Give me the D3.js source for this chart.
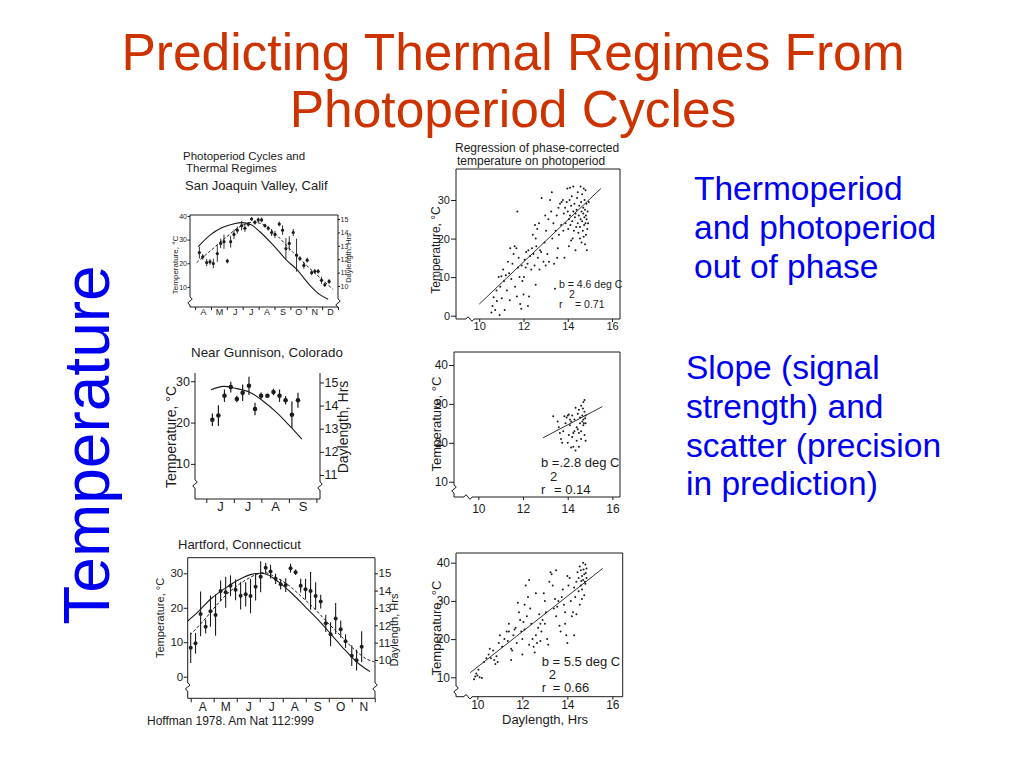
<!DOCTYPE html>
<html>
<head>
<meta charset="utf-8">
<script src="https://cdn.jsdelivr.net/npm/d3@7"></script>
<style>
  body { margin: 0; background: #fff; }
  svg { font-family: "Liberation Sans", Arial, sans-serif; }
</style>
</head>
<body>
<script>
// ---- slide text ----
var titleLines = ['Predicting Thermal Regimes From', 'Photoperiod Cycles'];
var noteA = ['Thermoperiod', 'and photoperiod', 'out of phase'];
var noteB = ['Slope (signal', 'strength) and', 'scatter (precision', 'in prediction)'];
var sideLabel = 'Temperature';
var citation = 'Hoffman 1978. Am Nat 112:999';

// ---- San Joaquin Valley (month, temp, +/-) ----
var sjMonths = ['A', 'M', 'J', 'J', 'A', 'S', 'O', 'N', 'D'];
var sjTempTicks = [10, 20, 30, 40];
var sjDayTicks = [10, 11, 12, 13, 14, 15];
var sjTemp = [
  [4.27, 24.5, 2.5], [4.48, 22.7, 1.2], [4.73, 20.3, 1.5], [4.94, 20.6, 1.2], [5.15, 19.9, 2],
  [5.40, 24.1, 3.5], [5.61, 28.4, 2], [5.82, 29.1, 3], [6.03, 20.9, 1], [6.24, 29.1, 2.5],
  [6.45, 32.2, 2], [6.66, 34.0, 1.5], [6.93, 35.9, 2], [7.14, 34.8, 1.5], [7.35, 36.5, 1],
  [7.56, 38.7, 0.8], [7.77, 37.3, 1], [7.98, 38.3, 1], [8.19, 38.3, 1], [8.40, 35.9, 0.8],
  [8.61, 34.8, 1], [8.82, 33.0, 1.5], [9.03, 32.2, 1.5], [9.30, 36.6, 1], [9.51, 34.0, 2],
  [9.72, 26.2, 4.5], [9.93, 28.4, 3], [10.18, 33.0, 1.5], [10.39, 23.4, 7], [10.60, 22.0, 1],
  [10.85, 19.1, 1.5], [11.06, 21.3, 1], [11.34, 16.0, 1], [11.54, 16.6, 1], [11.75, 16.6, 1],
  [11.96, 12.8, 1.5], [12.17, 10.9, 1], [12.44, 12.3, 1]
];
var sjDay = [
  [4.20, 12.93], [4.94, 13.8], [5.68, 14.35], [6.41, 14.63], [7.0, 14.73], [7.56, 14.55],
  [8.08, 14.05], [8.92, 13.05], [9.76, 11.93], [10.39, 11.25], [11.23, 10.05], [11.86, 9.35], [12.38, 9.0]
];
var sjFit = [
  [4.10, 20.3], [4.94, 25.1], [5.99, 31.2], [6.83, 35.5], [7.56, 37.3], [8.08, 36.9],
  [8.71, 34.5], [9.34, 30.5], [10.18, 24.5], [11.02, 19.1], [11.86, 13.9], [12.7, 8.9]
];

// ---- Gunnison ----
var gnMonths = ['J', 'J', 'A', 'S'];
var gnTempTicks = [10, 20, 30];
var gnDayTicks = [11, 12, 13, 14, 15];
var gnTemp = [
  [6.22, 20.7, 1.5], [6.44, 21.7, 2.5], [6.66, 26.5, 1.5], [6.89, 28.6, 1.3], [7.11, 25.7, 0.8],
  [7.32, 27.2, 2], [7.55, 28.9, 2.2], [7.77, 23.3, 1.5], [7.99, 26.5, 0.8], [8.22, 26.5, 0.4],
  [8.44, 27.4, 0.8], [8.66, 26.5, 1.5], [8.88, 25.4, 1], [9.11, 21.9, 3.2], [9.33, 25.4, 1.8]
];
var gnDay = [
  [6.17, 14.69], [6.62, 14.83], [7.05, 14.75], [7.59, 14.57], [8.08, 14.18],
  [8.56, 13.70], [9.05, 13.10], [9.47, 12.55]
];

// ---- Hartford ----
var hfMonths = ['A', 'M', 'J', 'J', 'A', 'S', 'O', 'N'];
var hfTempTicks = [0, 10, 20, 30];
var hfDayTicks = [10, 11, 12, 13, 14, 15];
var hfTemp = [
  [4.0, 8.4, 4.4], [4.21, 9.7, 3], [4.43, 18.2, 6.5], [4.65, 14.5, 2], [4.86, 19.0, 4.5],
  [5.08, 17.9, 6], [5.30, 24.9, 3], [5.52, 24.5, 4.5], [5.73, 26.4, 3], [5.95, 25.2, 3],
  [6.17, 23.5, 4], [6.39, 23.9, 3.5], [6.60, 23.4, 5], [6.82, 26.1, 4], [7.04, 29.0, 4.5],
  [7.26, 31.6, 1.5], [7.47, 30.5, 2], [7.69, 28.4, 1.5], [7.91, 26.8, 1.5], [8.13, 26.6, 2],
  [8.34, 31.5, 1.3], [8.56, 30.3, 0.8], [8.78, 26.4, 2], [8.99, 25.4, 3], [9.21, 24.9, 5.5],
  [9.43, 23.4, 4], [9.65, 21.8, 2], [9.87, 15.5, 2.5], [10.08, 12.3, 3.5], [10.30, 16.9, 4.5],
  [10.52, 13.8, 2.5], [10.73, 10.3, 2], [11.00, 6.1, 3], [11.21, 4.8, 3], [11.43, 8.7, 4.5]
];
var hfDay = [
  [3.87, 12.25], [4.33, 12.79], [4.91, 13.56], [5.49, 14.13], [6.07, 14.62], [6.65, 14.94],
  [7.08, 15.0], [7.37, 14.90], [7.80, 14.52], [8.39, 13.85], [8.97, 13.08], [9.54, 12.31],
  [10.13, 11.44], [10.70, 10.58], [11.28, 9.81], [11.79, 9.33]
];
var hfFit = [
  [3.97, 12.1], [4.54, 16.1], [5.13, 20.8], [5.70, 24.7], [6.28, 27.6], [6.87, 29.7],
  [7.23, 30.2], [7.66, 29.0], [8.24, 26.6], [8.82, 23.2], [9.40, 19.6], [9.98, 15.5],
  [10.56, 11.6], [11.14, 7.7], [11.65, 5.1], [11.98, 4.3]
];

// ---- regressions (daylength, temp) ----
var xTicks = [10, 12, 14, 16];
var rg1Ticks = [0, 10, 20, 30];
var rg2Ticks = [10, 20, 30, 40];
var rg1Pts = [
  [10.55, 0.8], [10.6, 2.5], [10.65, 4.8], [10.72, 1.5], [10.78, 6.5], [10.8, 3.8], [10.88, 10],
  [10.95, 7.5], [11.0, 10.2], [11.02, 4.5], [11.08, 12], [11.12, 9], [11.2, 10.5], [11.25, 6.5],
  [11.3, 14], [11.35, 11], [11.4, 17.5], [11.45, 9.5], [11.5, 13.5], [11.55, 16], [11.6, 18],
  [11.62, 7.5], [11.68, 17.5], [11.72, 27], [11.75, 12.5], [11.78, 15], [11.82, 10], [11.85, 3],
  [11.9, 1.8], [11.92, 13], [11.95, 9], [12.0, 5.5], [12.02, 10], [12.05, 14.5], [12.1, 12.5],
  [12.12, 16.5], [12.18, 13.5], [12.22, 17], [12.25, 5], [12.3, 15.5], [12.35, 12], [12.38, 17.5],
  [12.42, 21], [12.45, 16], [12.5, 13], [12.52, 23.5], [12.55, 20], [12.58, 18], [12.62, 22.5],
  [12.65, 15], [12.7, 24], [12.72, 12], [12.75, 17], [12.8, 16.5], [12.82, 30.5], [12.9, 14],
  [12.95, 19], [13.0, 13], [13.02, 22], [13.08, 16], [13.12, 25], [13.15, 14], [13.2, 30],
  [13.25, 27], [13.28, 32], [13.3, 20], [13.35, 24], [13.38, 13.5], [13.42, 7], [13.45, 22],
  [13.5, 26], [13.52, 15], [13.58, 28], [13.6, 21], [13.65, 29], [13.7, 23.5], [13.72, 29.5],
  [13.78, 30], [13.8, 22], [13.82, 26.5], [13.88, 28], [13.9, 24], [13.95, 29.5], [13.98, 33],
  [14.0, 27], [14.02, 22.5], [14.05, 25], [14.08, 30], [14.1, 26], [14.12, 23.5], [14.15, 28.5],
  [14.18, 31], [14.2, 24.5], [14.22, 20], [14.25, 27], [14.28, 22], [14.3, 29], [14.32, 25.5],
  [14.35, 17], [14.38, 23], [14.4, 27.5], [14.42, 30.5], [14.45, 24], [14.48, 21.5], [14.5, 26],
  [14.52, 28.5], [14.55, 23], [14.58, 25], [14.6, 29.5], [14.62, 19], [14.62, 27], [14.65, 24.5],
  [14.65, 31.5], [14.68, 22], [14.7, 26.5], [14.7, 28], [14.72, 33], [14.74, 23.5], [14.75, 25.5],
  [14.76, 30], [14.78, 18.5], [14.78, 27.5], [14.8, 24], [14.8, 32.5], [14.82, 26], [14.82, 21],
  [14.84, 29], [14.85, 25], [14.86, 17], [14.9, 27], [14.88, 22.5], [14.58, 33.5], [14.45, 32],
  [14.25, 33.5], [14.15, 19.5], [14.05, 18], [13.85, 15], [13.55, 17.5], [12.98, 26], [12.55, 8],
  [12.2, 2.5], [11.7, 5], [11.38, 4], [11.15, 1.5], [10.92, 0.2], [14.95, 29.5], [14.92, 24],
  [14.72, 20.5], [14.55, 20], [14.35, 26.5], [14.1, 33.2]
];
var rg1Line = [[10, 3], [15.5, 33]];

var rg2Pts = [
  [13.35, 26.8], [13.6, 24], [13.7, 21], [13.75, 20], [13.8, 23], [13.9, 25], [13.95, 26.5],
  [14.0, 27], [14.05, 22], [14.1, 24.5], [14.15, 25.5], [14.2, 21.5], [14.2, 27], [14.25, 19],
  [14.3, 23], [14.3, 26], [14.35, 18], [14.4, 20.5], [14.4, 24], [14.45, 27.5], [14.5, 28.5],
  [14.5, 22.5], [14.55, 25], [14.55, 26.5], [14.6, 29.5], [14.6, 23], [14.65, 27], [14.65, 25.5],
  [14.7, 30.5], [14.7, 26], [14.7, 24.5], [14.75, 28], [14.75, 22], [14.75, 31], [14.8, 27],
  [14.8, 25], [14.8, 20.5], [14.6, 21], [14.5, 19], [14.1, 26], [13.55, 25.5], [13.65, 22.5],
  [14.0, 20], [14.35, 29], [14.45, 23.5], [14.25, 22.5], [14.15, 18.8], [13.85, 26.8],
  [14.05, 27.3], [14.68, 28.8], [14.72, 25], [14.78, 26.3]
];
var rg2Line = [[12.9, 21.3], [15.55, 29.3]];

var rg3Pts = [
  [9.85, 9.5], [9.95, 11], [10.0, 10.5], [10.05, 12], [10.1, 10], [10.2, 9.8], [9.9, 10.2],
  [10.3, 14], [10.4, 15], [10.5, 16], [10.55, 17.5], [10.6, 15], [10.7, 17], [10.75, 14.5],
  [10.8, 13.5], [10.85, 15.5], [10.9, 14], [10.95, 19], [11.0, 21], [11.1, 18], [11.2, 20],
  [11.3, 22], [11.35, 19.5], [11.4, 22], [11.5, 17.5], [11.55, 17], [11.5, 14.5], [11.6, 21],
  [11.65, 22.5], [11.7, 23], [11.75, 19], [11.8, 29.5], [11.85, 27], [11.9, 25], [11.95, 22],
  [12.0, 20], [12.0, 16], [12.05, 24.5], [12.1, 22.5], [12.15, 34], [12.2, 26], [12.25, 31],
  [12.3, 35.5], [12.35, 28], [12.4, 24], [12.45, 20], [12.5, 18], [12.55, 16.5], [12.6, 21],
  [12.65, 19], [12.7, 23], [12.75, 26.5], [12.8, 24], [12.85, 22], [12.9, 25], [12.95, 32],
  [13.0, 30], [13.05, 27], [13.1, 20], [13.15, 18.5], [13.2, 35], [13.25, 37.5], [13.3, 37],
  [13.35, 34], [13.4, 28], [13.45, 30.5], [13.5, 26], [13.55, 28.5], [13.6, 30], [13.65, 23.5],
  [13.7, 22], [13.75, 31], [13.8, 33], [13.85, 29], [13.9, 27], [13.95, 21], [14.0, 19],
  [14.05, 34], [14.1, 36], [14.15, 30], [14.2, 26], [14.25, 27], [14.3, 33.5], [14.35, 31],
  [14.4, 35], [14.45, 37.5], [14.5, 36], [14.5, 32.5], [14.55, 39], [14.6, 34], [14.6, 38],
  [14.65, 36.5], [14.65, 33], [14.7, 40], [14.7, 35.5], [14.75, 37], [14.75, 31.5], [14.8, 39.5],
  [14.8, 34.5], [14.85, 36], [14.85, 38.5], [14.55, 29], [14.4, 26.5], [14.3, 21], [13.9, 24],
  [12.1, 29], [12.6, 32], [11.4, 24], [12.3, 18.5], [13.0, 24], [12.8, 19.5], [13.5, 38],
  [14.0, 36.5], [14.65, 30.5], [14.72, 38.2], [14.78, 35], [14.62, 35.2], [14.82, 37.3]
];
var rg3Line = [[9.68, 11.2], [15.57, 38.5]];

var ink = '#1c1c1c';

var svg = d3.select('body').append('svg')
  .attr('width', 1024)
  .attr('height', 768);

// ---- slide text ----
svg.selectAll('text.title')
  .data(titleLines)
  .enter()
  .append('text')
  .attr('class', 'title')
  .attr('x', 513)
  .attr('y', function (d, i) { return 70 + i * 57; })
  .attr('text-anchor', 'middle')
  .attr('font-size', 51.5)
  .attr('fill', '#cc3300')
  .text(function (d) { return d; });

function noteBlock(lines, x, y0) {
  svg.append('g').selectAll('text')
    .data(lines)
    .enter()
    .append('text')
    .attr('x', x)
    .attr('y', function (d, i) { return y0 + i * 38.8; })
    .attr('font-size', 33.5)
    .attr('fill', '#0000f0')
    .text(function (d) { return d; });
}
noteBlock(noteA, 694, 200);
noteBlock(noteB, 686, 379);

svg.append('text')
  .attr('transform', 'translate(109,445) rotate(-90)')
  .attr('text-anchor', 'middle')
  .attr('font-size', 64)
  .attr('fill', '#0000f0')
  .text(sideLabel);

// ---- helpers ----
function vLine(x, y0, y1, b) {
  if (b == null) { return 'M' + x + ',' + y0 + 'V' + y1; }
  return 'M' + x + ',' + y0 + 'V' + (b - 4) +
    'Q' + (x + 4) + ',' + (b - 2) + ' ' + x + ',' + b +
    'Q' + (x - 4) + ',' + (b + 2) + ' ' + x + ',' + (b + 4) + 'V' + y1;
}
function hLine(y, x0, x1, b) {
  if (b == null) { return 'M' + x0 + ',' + y + 'H' + x1; }
  return 'M' + x0 + ',' + y + 'H' + (b - 4) +
    'Q' + (b - 2) + ',' + (y - 4) + ' ' + b + ',' + y +
    'Q' + (b + 2) + ',' + (y + 4) + ' ' + (b + 4) + ',' + y + 'H' + x1;
}
function styleAxis(a, fs) {
  a.attr('font-family', '"Liberation Sans", Arial, sans-serif').attr('font-size', fs);
  a.selectAll('line').attr('stroke', ink);
  a.selectAll('text').attr('fill', ink);
  a.select('.domain').remove();
}
function stroke(sel, w) {
  return sel.attr('fill', 'none').attr('stroke', ink).attr('stroke-width', w || 1);
}
function vLabel(g, txt, x, y, fs) {
  g.append('text')
    .attr('transform', 'translate(' + x + ',' + y + ') rotate(-90)')
    .attr('text-anchor', 'middle')
    .attr('font-size', fs)
    .attr('fill', ink)
    .text(txt);
}
var fmt = d3.format('d');

// month chart: temperature points with bars, daylength curve, optional fitted curve
function monthChart(c) {
  var g = svg.append('g');
  var x = d3.scaleLinear().domain(c.mDomain).range([c.left, c.right]);
  var yT = d3.scaleLinear().domain(c.tDomain).range([c.bottom, c.top]);
  var yD = d3.scaleLinear().domain(c.dDomain).range([c.bottom, c.top]);

  if (c.frameTop) { stroke(g.append('path').attr('d', hLine(c.top, c.left, c.right)), 1); }
  stroke(g.append('path').attr('d', vLine(c.left, c.axisTop, c.bottom, c.breakL)), 1);
  stroke(g.append('path').attr('d', vLine(c.right, c.axisTop, c.bottom, c.breakR)), 1);
  stroke(g.append('path').attr('d', hLine(c.bottom, c.left, c.right)), 1);

  var aL = g.append('g').attr('transform', 'translate(' + c.left + ',0)')
    .call(d3.axisLeft(yT).tickValues(c.tTicks).tickFormat(fmt)
      .tickSizeInner(c.tickL).tickSizeOuter(0).tickPadding(c.padL));
  styleAxis(aL, c.fsTick);
  var aR = g.append('g').attr('transform', 'translate(' + c.right + ',0)')
    .call(d3.axisRight(yD).tickValues(c.dTicks).tickFormat(fmt)
      .tickSizeInner(c.tickR).tickSizeOuter(0).tickPadding(c.padR));
  styleAxis(aR, c.fsTick);

  var bounds = d3.range(Math.ceil(c.mDomain[0]), Math.floor(c.mDomain[1]) + 1);
  var aB = g.append('g').attr('transform', 'translate(0,' + c.bottom + ')')
    .call(d3.axisBottom(x).tickValues(bounds).tickSize(c.tickB).tickFormat(''));
  styleAxis(aB, c.fsMonth);
  var mids = c.months.map(function (m, i) { return c.firstMonth + 0.5 + i; });
  var aM = g.append('g').attr('transform', 'translate(0,' + c.bottom + ')')
    .call(d3.axisBottom(x).tickValues(mids).tickSize(0).tickPadding(c.padM)
      .tickFormat(function (d, i) { return c.months[i]; }));
  styleAxis(aM, c.fsMonth);

  var line = d3.line().curve(d3.curveCatmullRom);
  stroke(g.append('path').datum(c.day)
    .attr('d', line.x(function (d) { return x(d[0]); }).y(function (d) { return yD(d[1]); })), 1.1);
  if (c.fit) {
    stroke(g.append('path').datum(c.fit)
      .attr('d', line.x(function (d) { return x(d[0]); }).y(function (d) { return yT(d[1]); })), 1)
      .attr('stroke-dasharray', '3,2');
  }

  g.selectAll('line.bar')
    .data(c.temp)
    .enter()
    .append('line')
    .attr('class', 'bar')
    .attr('x1', function (d) { return x(d[0]); })
    .attr('x2', function (d) { return x(d[0]); })
    .attr('y1', function (d) { return yT(d[1] - d[2]); })
    .attr('y2', function (d) { return yT(d[1] + d[2]); })
    .attr('stroke', ink)
    .attr('stroke-width', c.bar);
  g.selectAll('circle')
    .data(c.temp)
    .enter()
    .append('circle')
    .attr('cx', function (d) { return x(d[0]); })
    .attr('cy', function (d) { return yT(d[1]); })
    .attr('r', c.dot)
    .attr('fill', ink);

  vLabel(g, 'Temperature, °C', c.yLab[0], c.yLab[1], c.yLab[2]);
  vLabel(g, 'Daylength, Hrs', c.dLab[0], c.dLab[1], c.dLab[2]);
  return g;
}

// regression scatter
function scatterChart(c) {
  var g = svg.append('g');
  var x = d3.scaleLinear().domain(c.xDomain).range([c.left, c.right]);
  var y = d3.scaleLinear().domain(c.yDomain).range([c.bottom, c.top]);

  stroke(g.append('path').attr('d', hLine(c.top, c.left, c.right)), 1);
  stroke(g.append('path').attr('d', vLine(c.right, c.top, c.bottom)), 1);
  stroke(g.append('path').attr('d', vLine(c.left, c.top, c.bottom, c.breakL)), 1);
  stroke(g.append('path').attr('d', hLine(c.bottom, c.left, c.right, c.breakB)), 1);

  var aL = g.append('g').attr('transform', 'translate(' + c.left + ',0)')
    .call(d3.axisLeft(y).tickValues(c.yTicks).tickFormat(fmt)
      .tickSizeInner(5).tickSizeOuter(0).tickPadding(1));
  styleAxis(aL, c.fs);
  var aB = g.append('g').attr('transform', 'translate(0,' + c.bottom + ')')
    .call(d3.axisBottom(x).tickValues(xTicks).tickFormat(fmt)
      .tickSizeInner(3).tickSizeOuter(0).tickPadding(c.padB));
  styleAxis(aB, c.fs);

  g.selectAll('circle')
    .data(c.pts)
    .enter()
    .append('circle')
    .attr('cx', function (d) { return x(d[0]); })
    .attr('cy', function (d) { return y(d[1]); })
    .attr('r', 1)
    .attr('fill', ink);

  stroke(g.append('path').datum(c.fit)
    .attr('d', d3.line().x(function (d) { return x(d[0]); }).y(function (d) { return y(d[1]); })), 0.9);

  var s = c.stats;
  g.selectAll('text.stat')
    .data([[s.b, s.x, s.y], ['2', s.x + s.sup, s.y + s.gap], ['r', s.x, s.y + 2 * s.gap],
      ['= ' + s.r, s.x + s.req, s.y + 2 * s.gap]])
    .enter()
    .append('text')
    .attr('class', 'stat')
    .attr('x', function (d) { return d[1]; })
    .attr('y', function (d) { return d[2]; })
    .attr('font-size', s.fs)
    .attr('fill', ink)
    .text(function (d) { return d[0]; });

  vLabel(g, 'Temperature, °C', c.yLab[0], c.yLab[1], c.yLab[2]);
  if (c.xLab) {
    g.append('text').attr('x', c.xLab[0]).attr('y', c.xLab[1]).attr('text-anchor', 'middle')
      .attr('font-size', c.xLab[2]).attr('fill', ink).text('Daylength, Hrs');
  }
  return g;
}

function caption(lines) {
  svg.append('g').selectAll('text')
    .data(lines)
    .enter()
    .append('text')
    .attr('x', function (d) { return d[1]; })
    .attr('y', function (d) { return d[2]; })
    .attr('font-size', function (d) { return d[3]; })
    .attr('fill', ink)
    .text(function (d) { return d[0]; });
}

// ---- figure captions ----
caption([
  ['Photoperiod Cycles and', 183, 160, 11.5],
  ['Thermal Regimes', 186, 172, 11.5],
  ['San Joaquin Valley, Calif', 185, 190, 13],
  ['Regression of phase-corrected', 455, 152, 12],
  ['temperature on photoperiod', 457, 165, 12],
  ['Near Gunnison, Colorado', 191, 357, 13.4],
  ['Hartford, Connecticut', 178, 549, 13],
  [citation, 147, 725, 12]
]);

// ---- month charts ----
monthChart({
  left: 190, right: 338, top: 215, bottom: 307, axisTop: 215, frameTop: true,
  mDomain: [3.68, 13.0], tDomain: [1.5, 40.4], dDomain: [8.43, 15.3],
  breakL: 301, breakR: 303, tickL: 2.5, padL: 0.5, tickR: 2, padR: 0.5, tickB: 3, padM: 2,
  fsTick: 7, fsMonth: 9, dot: 1.6, bar: 0.9,
  months: sjMonths, firstMonth: 4, tTicks: sjTempTicks, dTicks: sjDayTicks,
  temp: sjTemp, day: sjDay, fit: sjFit,
  yLab: [178, 265, 8], dLab: [351, 258, 7.5]
});
monthChart({
  left: 195, right: 320, top: 373, bottom: 499, axisTop: 373, frameTop: false,
  mDomain: [5.59, 10.13], tDomain: [1.5, 32], dDomain: [9.96, 15.41],
  breakL: 484, breakR: 486, tickL: 4, padL: 1, tickR: 4, padR: 0.5, tickB: 4, padM: 3,
  fsTick: 12.5, fsMonth: 13, dot: 2.3, bar: 1.2,
  months: gnMonths, firstMonth: 6, tTicks: gnTempTicks, dTicks: gnDayTicks,
  temp: gnTemp, day: gnDay, fit: null,
  yLab: [176, 437, 14], dLab: [348, 427, 14]
});
monthChart({
  left: 187.7, right: 375, top: 557.7, bottom: 698.3, axisTop: 557.7, frameTop: true,
  mDomain: [3.87, 12.01], tDomain: [-6.27, 34.53], dDomain: [7.79, 15.9],
  breakL: 687, breakR: 687, tickL: 4, padL: 0.5, tickR: 3, padR: 0.5, tickB: 4, padM: 4,
  fsTick: 11.5, fsMonth: 12, dot: 2, bar: 1.1,
  months: hfMonths, firstMonth: 4, tTicks: hfTempTicks, dTicks: hfDayTicks,
  temp: hfTemp, day: hfDay, fit: hfFit,
  yLab: [164, 618, 11], dLab: [398, 630, 11]
});

// ---- regression charts ----
scatterChart({
  left: 456, right: 620, top: 169, bottom: 319,
  xDomain: [8.95, 16.36], yDomain: [-0.86, 38.04], yTicks: rg1Ticks,
  breakL: null, breakB: 470, fs: 11, padB: 0,
  pts: rg1Pts, fit: rg1Line,
  stats: { b: 'b = 4.6 deg C', r: '0.71', x: 559, y: 288, gap: 10.2, sup: 10, req: 16, fs: 10.5 },
  yLab: [440, 250, 12]
});
scatterChart({
  left: 454, right: 620, top: 352, bottom: 497,
  xDomain: [8.91, 16.34], yDomain: [6.07, 43.34], yTicks: rg2Ticks,
  breakL: 489, breakB: 468, fs: 12, padB: 4,
  pts: rg2Pts, fit: rg2Line,
  stats: { b: 'b =.2.8 deg C', r: '0.14', x: 541, y: 467, gap: 13.5, sup: 9, req: 13, fs: 13 },
  yLab: [441, 424, 13]
});
scatterChart({
  left: 456, right: 622.7, top: 553, bottom: 696.7,
  xDomain: [9.05, 16.46], yDomain: [4.92, 42.54], yTicks: rg2Ticks,
  breakL: 690, breakB: 468, fs: 12, padB: 1,
  pts: rg3Pts, fit: rg3Line,
  stats: { b: 'b = 5.5 deg C', r: '0.66', x: 541.7, y: 665.5, gap: 13.3, sup: 7, req: 11, fs: 13 },
  yLab: [441, 628, 13], xLab: [545, 724, 13]
});
</script>
</body>
</html>
